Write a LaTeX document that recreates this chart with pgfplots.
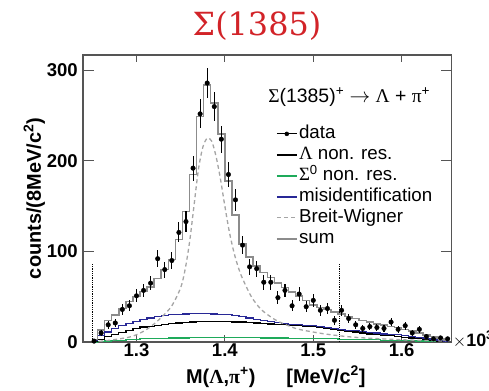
\documentclass[border=0pt]{standalone}
\usepackage{fontspec}
\setmainfont{Liberation Sans}
\newfontfamily\serif{Liberation Serif}
\newfontfamily\titlefont{DejaVu Serif}
\usepackage{pgfplots}
\usepackage{pgfplotstable}
\pgfplotsset{compat=1.18}
\definecolor{axgray}{RGB}{85,85,85}
\definecolor{titlered}{RGB}{210,35,40}
\definecolor{misblue}{RGB}{40,40,150}
\definecolor{sigreen}{RGB}{30,170,90}
\definecolor{sumgray}{RGB}{140,140,140}
\definecolor{bwgray}{RGB}{165,165,165}

\pgfplotstableread{
x      y    ey    sum  blue  black green
1.252  1    1.0   3    2     0.5   0
1.260  10   3.2   13   7     3     0.5
1.268  19   4.4   24   11    6     1
1.276  21   4.6   30   15    8.5   1.5
1.284  36   6.0   37   18    10.5  2
1.292  40   6.3   45   20.5  13    2.5
1.300  51   7.1   50   22.5  15    3
1.308  57   7.5   56   24.5  16.5  3.5
1.316  65   8.1   61   26.5  17.5  3.5
1.324  92   9.6   70   28    18.5  4
1.332  80   8.9   80   29    19.5  4
1.340  90   9.5   91   30    20.5  4.5
1.348  121  11.0  113  30.5  21    4.5
1.356  133  11.5  144  31    21.5  4.5
1.364  192  13.9  185  31.5  22    5
1.372  252  15.9  249  31.5  22.5  5
1.380  286  16.9  284  31.5  22.5  5
1.388  260  16.1  264  31    22.5  5
1.396  224  15.0  230  30.5  22.5  5
1.404  185  13.6  178  30    22.5  5
1.412  157  12.5  140  29    22    5
1.420  107  10.3  108  28    22    5
1.428  83   9.1   94   26.5  21.5  5
1.436  81   9.0   84   25    21    5
1.444  66   8.1   77   23.5  20.5  4.5
1.452  66   8.1   71   22.5  20    4.5
1.460  49   7.0   65   21.5  19.5  4.5
1.468  57   7.5   60   20.5  19    4.5
1.476  40   6.3   55   19.5  18.5  4
1.484  53   7.3   51   19    18    4
1.492  39   6.2   46   18.5  17.5  4
1.500  46   6.8   41   18    17    4
1.508  35   5.9   38   17    16    3.5
1.516  37   6.1   36   16    15    3.5
1.524  24   4.9   33   15    14    3.5
1.532  35   5.9   31   14    13    3
1.540  26   5.1   28   13    12    3
1.548  19   4.4   26   12.5  11    3
1.556  15   3.9   24   11.5  10    2.5
1.564  17   4.1   22   10.5  9     2.5
1.572  16   4.0   20   10    8.5   2.5
1.580  15   3.9   19   9     7.5   2
1.588  22   4.7   17   8.5   7     2
1.596  14   3.7   16   8     6     2
1.604  18   4.2   14   7     5     1.5
1.612  10   3.2   12   6     4.5   1.5
1.620  14   3.7   10   5     3.5   1
1.628  6    2.4   8    4     2.5   1
1.636  3.5  1.9   6    3     2     0.5
1.644  4.5  2.1   4    2     1     0.5
1.652  3.5  1.9   2    1     0.5   0.3
}\datatable

\pgfplotstableread{
x      bw
1.250  0
1.270  2
1.290  5
1.300  8
1.310  13
1.320  20
1.330  29
1.340  40
1.350  60
1.355  80
1.360  110
1.365  150
1.370  190
1.375  215
1.380  225
1.385  222
1.390  205
1.395  180
1.400  150
1.405  122
1.410  100
1.415  83
1.420  70
1.430  50
1.440  37
1.450  29
1.460  23
1.480  15
1.500  11
1.520  8
1.550  5
1.600  2.5
1.650  1
}\bwtable

\begin{document}
\begin{tikzpicture}
\begin{axis}[
  name=ax,
  scale only axis,
  width=368.7bp, height=287bp,
  xmin=1.2395, xmax=1.6566, ymin=0, ymax=317,
  axis line style={draw=axgray, line width=1.1bp},
  tick style={draw=axgray, line width=1.1bp},
  tick align=inside,
  minor tick num=0,
  xtick={1.3,1.4,1.5,1.6}, xticklabels={1.3,1.4,1.5,1.6},
  ytick={0,100,200,300}, yticklabels={0,100,200,300},
  xtick style={/pgfplots/major tick length=7bp},
  ytick style={/pgfplots/major tick length=11bp},
  ticklabel style={font=\bfseries\fontsize{18.6}{20}\selectfont},
  xticklabel style={inner sep=0pt, yshift=-1.5bp},
  yticklabel style={inner sep=0pt, xshift=-5bp},
  xlabel={M({\serif Λ},{\serif π}\textsuperscript{+})\quad\ \ [MeV/c\textsuperscript{2}]},
  xlabel style={font=\bfseries\fontsize{20}{22}\selectfont, at={(axis description cs:0.523,-0.1429)}, anchor=base},
  ylabel={counts/(8MeV/c\textsuperscript{2})},
  ylabel style={font=\bfseries\fontsize{20}{22}\selectfont, at={(axis description cs:-0.132,0.5)}, anchor=center},
  legend style={draw=none, fill=none, at={(rel axis cs:0.515,0.765)}, anchor=north west,
    font=\fontsize{18.8}{20}\selectfont, row sep=2.5bp, column sep=1bp,
    nodes={inner sep=0.5bp, text height=13.5bp, text depth=4bp},
    cells={anchor=west}},
  legend cell align=left,
]
% dotted fit range lines
\addplot[black, densely dotted, line width=0.8bp, forget plot] coordinates {(1.250,0) (1.250,87)};
\addplot[black, densely dotted, line width=0.8bp, forget plot] coordinates {(1.530,0) (1.530,87)};
% components
\addplot[const plot mark mid, sigreen, line width=1.3bp, forget plot] table[x=x, y=green] {\datatable};
\addplot[const plot mark mid, black, line width=1.3bp, forget plot] table[x=x, y=black] {\datatable};
\addplot[const plot mark mid, misblue, line width=1.3bp, forget plot] table[x=x, y=blue] {\datatable};
\addplot[smooth, bwgray, dash pattern=on 4bp off 3bp, line width=1.3bp, forget plot] table[x=x, y=bw] {\bwtable};
\addplot[const plot mark mid, sumgray, line width=1.5bp, forget plot] table[x=x, y=sum] {\datatable};
% data
\addplot[only marks, mark=*, mark size=2.3bp, black, forget plot,
  error bars/.cd, y dir=both, y explicit, x dir=both, x fixed=0.0022,
  error bar style={line width=1.1bp, black}, error mark=none]
  table[x=x, y=y, y error=ey] {\datatable};
% legend
\addlegendimage{legend image code/.code={\draw[black, line width=1.1bp] (0bp,0bp) -- (20bp,0bp); \fill[black] (10bp,0bp) circle (2bp);}}
\addlegendentry{data}
\addlegendimage{legend image code/.code={\draw[black, line width=1.3bp] (0bp,0bp) -- (20bp,0bp);}}
\addlegendentry{{\serif Λ} non. res.}
\addlegendimage{legend image code/.code={\draw[sigreen, line width=1.3bp] (0bp,0bp) -- (20bp,0bp);}}
\addlegendentry{{\serif Σ}\textsuperscript{0} non. res.}
\addlegendimage{legend image code/.code={\draw[misblue, line width=1.3bp] (0bp,0bp) -- (20bp,0bp);}}
\addlegendentry{misidentification}
\addlegendimage{legend image code/.code={\draw[bwgray, dash pattern=on 4bp off 3bp, line width=1.2bp] (0bp,0bp) -- (20bp,0bp);}}
\addlegendentry{Breit-Wigner}
\addlegendimage{legend image code/.code={\draw[sumgray, line width=1.5bp] (0bp,0bp) -- (20bp,0bp);}}
\addlegendentry{sum}
% header of legend
\node[anchor=base west, inner sep=0pt, font=\fontsize{19.5}{21}\selectfont] at (rel axis cs:0.502,0.833)
  {{\serif Σ}(1385)\textsuperscript{+} $\rightarrow$ {\serif Λ} + {\serif π}\textsuperscript{+}};
\end{axis}
\node[anchor=base west, inner sep=0pt, font=\fontsize{18}{20}\selectfont] at ([xshift=1bp, yshift=-4bp]ax.south east)
  {$\times$\textbf{10}\textsuperscript{\textbf{3}}};
\node[anchor=base, inner sep=0pt, text=titlered, font=\titlefont\fontsize{32}{36}\selectfont] at ([xshift=174bp, yshift=19bp]ax.north west)
  {Σ(1385)};
\pgfresetboundingbox
\path[use as bounding box] ([xshift=-83bp,yshift=-49bp]ax.south west) rectangle ([xshift=37.3bp,yshift=55bp]ax.north east);
\end{tikzpicture}
\end{document}
